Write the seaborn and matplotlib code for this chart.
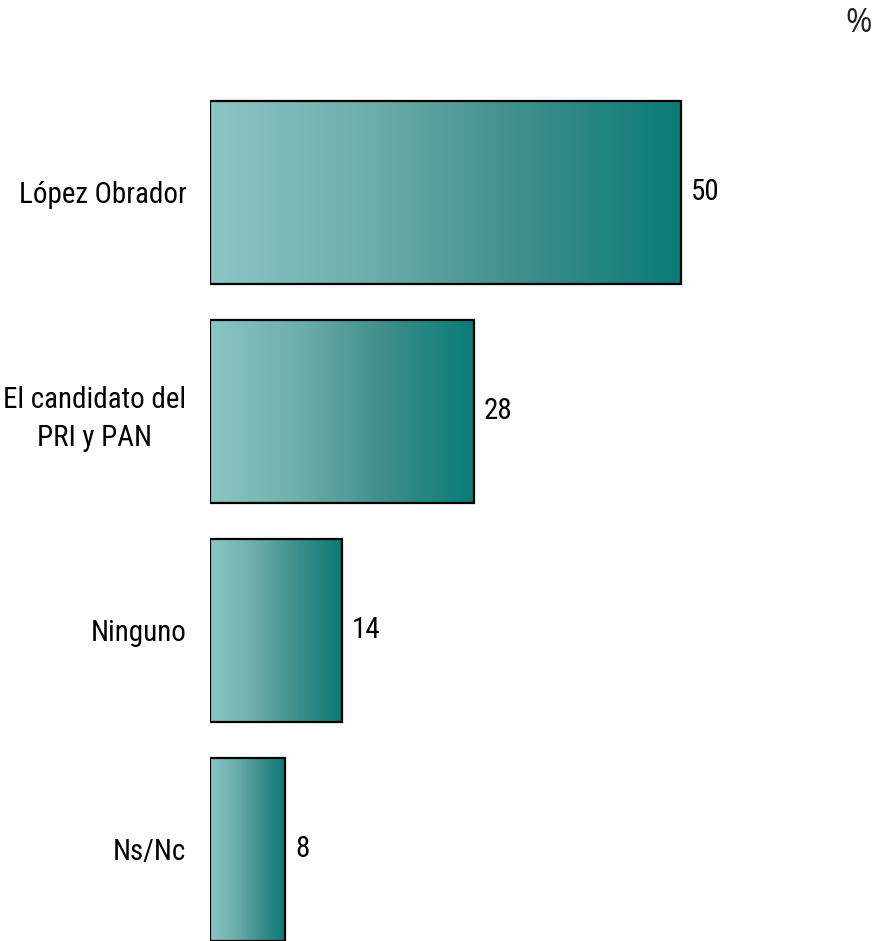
import numpy as np
import pandas as pd
import matplotlib
matplotlib.use("Agg")
import matplotlib.pyplot as plt
import seaborn as sns
from matplotlib import font_manager as fm
from matplotlib.colors import LinearSegmentedColormap
from matplotlib.textpath import TextPath

categories = ["López Obrador", "El candidato del\nPRI y PAN", "Ninguno", "Ns/Nc"]
values = [50, 28, 14, 8]
unit_label = "%"

sns.set_theme(style="white")

# locate a narrow sans font, preferring Liberation Sans Narrow
files = fm.findSystemFonts()
def pick(keys):
    for f in files:
        base = f.split("/")[-1].lower()
        if all(k in base for k in keys) and "bold" not in base and "italic" not in base:
            return f
    return None
path = pick(["liberationsansnarrow"]) or pick(["sansnarrow"]) or pick(["robotocondensed"]) or pick(["narrow"]) or pick(["condensed"])
fams = []
if path:
    fm.fontManager.addfont(path)
    fams = [fm.FontProperties(fname=path).get_name()]
plt.rcParams['font.family'] = fams + ['Liberation Sans', 'DejaVu Sans']

# fit font size so that the first label is ~165 px wide
probe = fm.FontProperties(family=plt.rcParams['font.family'], size=20)
tw = TextPath((0, 0), categories[0], prop=probe).get_extents().width  # points at 20pt
fs = 20 * (165 * 0.72) / tw

df = pd.DataFrame({"cat": categories, "val": values})

W, H = 878, 941
fig = plt.figure(figsize=(W / 100, H / 100), dpi=100)
ax = fig.add_axes([210 / W, 0, (W - 210) / W, 1])

sns.barplot(data=df, y="cat", x="val", orient="h", ax=ax, width=0.835,
            facecolor="none", edgecolor="black", linewidth=1.6)

cmap = LinearSegmentedColormap.from_list("teal", ["#8AC6C5", "#6EAEAB", "#3E8E8B", "#0A7B77"])
grad = np.linspace(0, 1, 256).reshape(1, -1)
for p in ax.patches:
    x0, y0 = p.get_x(), p.get_y()
    w, h = p.get_width(), p.get_height()
    im = ax.imshow(grad, cmap=cmap, aspect="auto", extent=[x0, x0 + w, y0 + h, y0],
                   zorder=p.get_zorder() - 0.1, interpolation="bicubic")
    im.set_clip_path(p)
    ax.text(x0 + w + 1.05, y0 + h / 2, f"{int(w)}", va="center", ha="left",
            fontsize=fs, color="black")

ax.set_xlim(0, (W - 210) / 9.42)
ax.set_ylim(3.418, -0.879)
ax.set_xlabel("")
ax.set_ylabel("")
ax.set_xticks([])
ax.tick_params(axis="y", length=0, pad=17, labelsize=fs, labelcolor="black")
for lbl in ax.get_yticklabels():
    lbl.set_multialignment("center")
    lbl.set_linespacing(1.45)
for s in ax.spines.values():
    s.set_visible(False)

fig.text(859 / W, 1 - 23 / H, unit_label, ha="center", va="center", fontsize=23,
         family=["Open Sans", "DejaVu Sans"], color="#222222")

fig.savefig("out.png", dpi=100)
